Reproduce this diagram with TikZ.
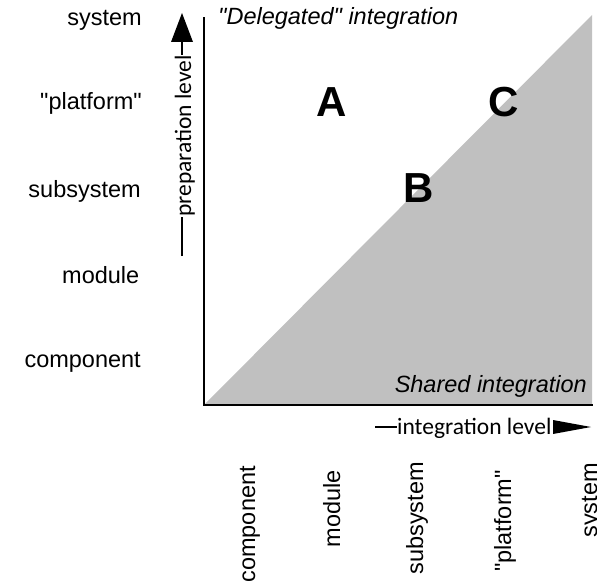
\documentclass[tikz,border=0pt]{standalone}
\usepackage{fontspec}
\setmainfont{Liberation Sans}
\newfontfamily\calib{Carlito}
\begin{document}
\begin{tikzpicture}[x=1pt,y=-1pt,
  lab/.style={inner sep=0pt, font=\fontsize{23.5}{28}\selectfont},
  vlab/.style={lab, rotate=90, anchor=base east},
  hlab/.style={lab, anchor=base east},
  big/.style={inner sep=0pt, font=\fontsize{42}{48}\selectfont\bfseries},
  axt/.style={inner sep=0pt, font=\calib\fontsize{23.5}{28}\selectfont},
  axisline/.style={line width=2pt, black, line cap=rect},
  titleline/.style={line width=2pt, black},
  tip/.style={fill=black, draw=none}]
\useasboundingbox (0,0) rectangle (597,586);
% region
\coordinate (O) at (204,405);
\coordinate (X) at (592,405);
\coordinate (Y) at (204,18);
\coordinate (T) at (592,15);
\fill[fill={rgb,255:red,192;green,192;blue,192}] (O) -- (X) -- (T) -- cycle;
\draw[axisline] (Y) -- (O) -- (X);
% left labels
\node[hlab] (ls)  at (142,26)  {system};
\node[hlab] (lp)  at (142,110) {\textquotedbl platform\textquotedbl};
\node[hlab] (lss) at (141,197) {subsystem};
\node[hlab] (lm)  at (139.5,283) {module};
\node[hlab] (lc)  at (141,367) {component};
% bottom labels
\node[vlab] (bc)  at (255,466) {component};
\node[vlab] (bm)  at (340,470) {module};
\node[vlab] (bss) at (423,462) {subsystem};
\node[vlab] (bp)  at (511,470) {\textquotedbl platform\textquotedbl};
\node[vlab] (bs)  at (597,463) {system};
% region letters
\node[big] (A) at (332,102) {A};
\node[big] (B) at (419,188) {B};
\node[big] (C) at (504,102) {C};
% region titles
\node[lab, anchor=base west, font=\fontsize{23.5}{28}\selectfont\itshape] (del) at (218,25) {\textquotedbl Delegated\textquotedbl{} integration};
\node[lab, anchor=base east, font=\fontsize{23.5}{28}\selectfont\itshape] (sh) at (587,392) {Shared integration};
% horizontal axis title
\node[axt, anchor=base west] (il) at (397,434) {integration level};
\coordinate (d0) at (375,427);
\coordinate (d1) at (397,427);
\draw[titleline] (d0) -- (d1);
\coordinate (h1) at (553,420);
\coordinate (h2) at (553,434);
\coordinate (h3) at (591,427);
\fill[tip] (h1) -- (h2) -- (h3) -- cycle;
% vertical axis title
\node[axt, rotate=90, anchor=base west] (pl) at (191,217) {preparation level};
\coordinate (v0) at (182,256);
\coordinate (v1) at (182,217);
\coordinate (v2) at (182,55);
\coordinate (v3) at (182,42);
\coordinate (t1) at (171,42);
\coordinate (t2) at (193,42);
\coordinate (t3) at (182,13);
\draw[titleline] (v0) -- (v1);
\draw[titleline] (v2) -- (v3);
\fill[tip] (t1) -- (t2) -- (t3) -- cycle;
\end{tikzpicture}
\end{document}
